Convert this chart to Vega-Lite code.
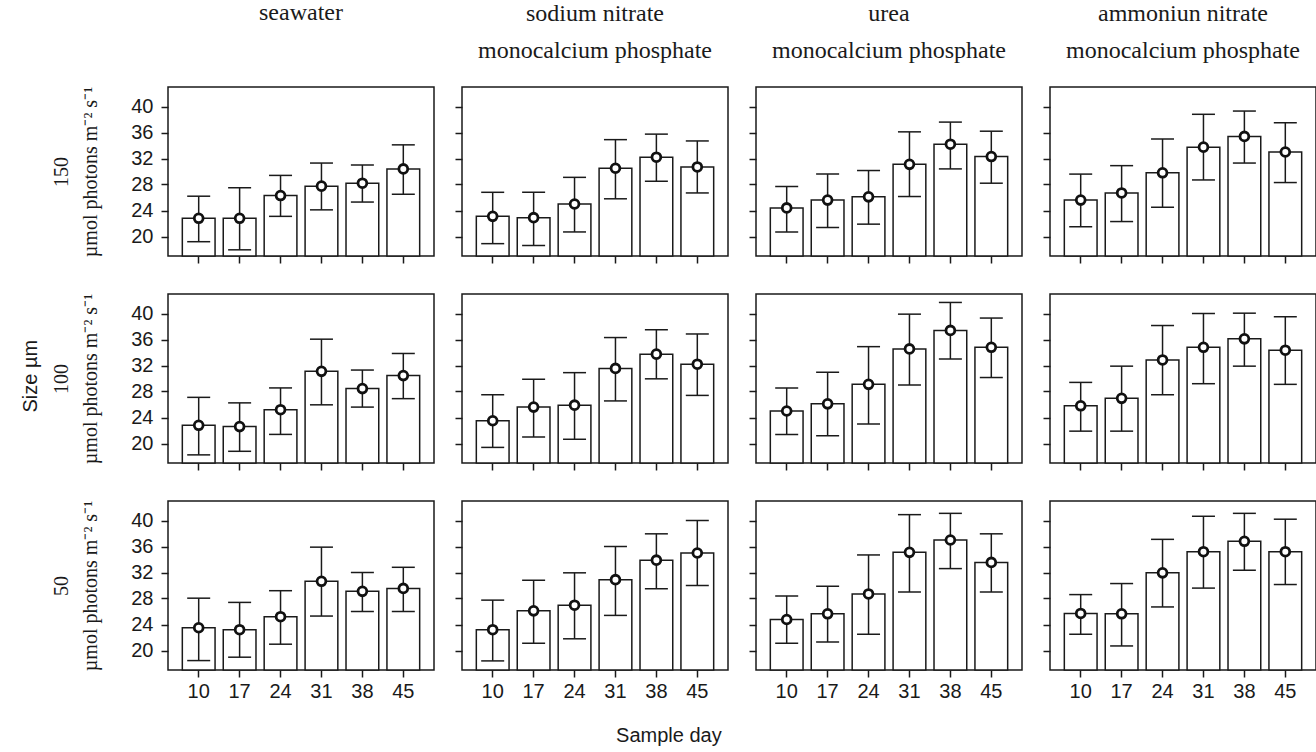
{
"$schema": "https://vega.github.io/schema/vega-lite/v6.json",
"background": "white",
"padding": {"left": 21, "top": 0, "right": 0, "bottom": 0},
"data": {"values": [
{"t":"sw","l":150,"day":10,"m":22.8,"lo":19.2,"hi":26.2},
{"t":"sw","l":150,"day":17,"m":22.8,"lo":17.95,"hi":27.5},
{"t":"sw","l":150,"day":24,"m":26.3,"lo":23.1,"hi":29.4},
{"t":"sw","l":150,"day":31,"m":27.75,"lo":24.1,"hi":31.3},
{"t":"sw","l":150,"day":38,"m":28.2,"lo":25.3,"hi":31.0},
{"t":"sw","l":150,"day":45,"m":30.4,"lo":26.5,"hi":34.1},
{"t":"sn","l":150,"day":10,"m":23.1,"lo":18.9,"hi":26.8},
{"t":"sn","l":150,"day":17,"m":22.9,"lo":18.6,"hi":26.8},
{"t":"sn","l":150,"day":24,"m":25.0,"lo":20.7,"hi":29.1},
{"t":"sn","l":150,"day":31,"m":30.5,"lo":25.8,"hi":34.9},
{"t":"sn","l":150,"day":38,"m":32.2,"lo":28.5,"hi":35.75},
{"t":"sn","l":150,"day":45,"m":30.7,"lo":26.7,"hi":34.7},
{"t":"ur","l":150,"day":10,"m":24.4,"lo":20.7,"hi":27.7},
{"t":"ur","l":150,"day":17,"m":25.6,"lo":21.4,"hi":29.6},
{"t":"ur","l":150,"day":24,"m":26.1,"lo":21.9,"hi":30.15},
{"t":"ur","l":150,"day":31,"m":31.1,"lo":26.15,"hi":36.1},
{"t":"ur","l":150,"day":38,"m":34.2,"lo":30.4,"hi":37.6},
{"t":"ur","l":150,"day":45,"m":32.3,"lo":28.2,"hi":36.2},
{"t":"an","l":150,"day":10,"m":25.6,"lo":21.5,"hi":29.6},
{"t":"an","l":150,"day":17,"m":26.7,"lo":22.3,"hi":30.9},
{"t":"an","l":150,"day":24,"m":29.8,"lo":24.5,"hi":35.0},
{"t":"an","l":150,"day":31,"m":33.75,"lo":28.7,"hi":38.8},
{"t":"an","l":150,"day":38,"m":35.4,"lo":31.3,"hi":39.3},
{"t":"an","l":150,"day":45,"m":33.0,"lo":28.3,"hi":37.5},
{"t":"sw","l":100,"day":10,"m":22.8,"lo":18.25,"hi":27.1},
{"t":"sw","l":100,"day":17,"m":22.6,"lo":18.8,"hi":26.25},
{"t":"sw","l":100,"day":24,"m":25.2,"lo":21.4,"hi":28.55},
{"t":"sw","l":100,"day":31,"m":31.1,"lo":25.95,"hi":36.05},
{"t":"sw","l":100,"day":38,"m":28.45,"lo":25.6,"hi":31.3},
{"t":"sw","l":100,"day":45,"m":30.45,"lo":26.9,"hi":33.85},
{"t":"sn","l":100,"day":10,"m":23.5,"lo":19.4,"hi":27.5},
{"t":"sn","l":100,"day":17,"m":25.6,"lo":21.0,"hi":29.9},
{"t":"sn","l":100,"day":24,"m":25.9,"lo":20.65,"hi":30.9},
{"t":"sn","l":100,"day":31,"m":31.55,"lo":26.55,"hi":36.3},
{"t":"sn","l":100,"day":38,"m":33.75,"lo":29.95,"hi":37.5},
{"t":"sn","l":100,"day":45,"m":32.2,"lo":27.4,"hi":36.85},
{"t":"ur","l":100,"day":10,"m":25.0,"lo":21.4,"hi":28.55},
{"t":"ur","l":100,"day":17,"m":26.1,"lo":21.2,"hi":30.95},
{"t":"ur","l":100,"day":24,"m":29.1,"lo":23.0,"hi":34.9},
{"t":"ur","l":100,"day":31,"m":34.55,"lo":29.0,"hi":39.9},
{"t":"ur","l":100,"day":38,"m":37.4,"lo":33.0,"hi":41.7},
{"t":"ur","l":100,"day":45,"m":34.8,"lo":30.15,"hi":39.3},
{"t":"an","l":100,"day":10,"m":25.8,"lo":21.9,"hi":29.4},
{"t":"an","l":100,"day":17,"m":26.95,"lo":21.9,"hi":31.9},
{"t":"an","l":100,"day":24,"m":32.85,"lo":27.5,"hi":38.15},
{"t":"an","l":100,"day":31,"m":34.8,"lo":29.2,"hi":40.0},
{"t":"an","l":100,"day":38,"m":36.1,"lo":31.9,"hi":40.05},
{"t":"an","l":100,"day":45,"m":34.35,"lo":29.1,"hi":39.5},
{"t":"sw","l":50,"day":10,"m":23.5,"lo":18.45,"hi":28.05},
{"t":"sw","l":50,"day":17,"m":23.2,"lo":18.97,"hi":27.4},
{"t":"sw","l":50,"day":24,"m":25.2,"lo":20.97,"hi":29.2},
{"t":"sw","l":50,"day":31,"m":30.65,"lo":25.3,"hi":35.9},
{"t":"sw","l":50,"day":38,"m":29.1,"lo":26.0,"hi":32.0},
{"t":"sw","l":50,"day":45,"m":29.55,"lo":26.0,"hi":32.8},
{"t":"sn","l":50,"day":10,"m":23.2,"lo":18.4,"hi":27.75},
{"t":"sn","l":50,"day":17,"m":26.1,"lo":21.1,"hi":30.8},
{"t":"sn","l":50,"day":24,"m":26.97,"lo":21.8,"hi":31.95},
{"t":"sn","l":50,"day":31,"m":30.9,"lo":25.4,"hi":36.0},
{"t":"sn","l":50,"day":38,"m":33.9,"lo":29.5,"hi":37.95},
{"t":"sn","l":50,"day":45,"m":35.0,"lo":30.0,"hi":40.0},
{"t":"ur","l":50,"day":10,"m":24.77,"lo":21.1,"hi":28.4},
{"t":"ur","l":50,"day":17,"m":25.65,"lo":21.3,"hi":29.9},
{"t":"ur","l":50,"day":24,"m":28.7,"lo":22.5,"hi":34.7},
{"t":"ur","l":50,"day":31,"m":35.1,"lo":29.0,"hi":40.9},
{"t":"ur","l":50,"day":38,"m":37.0,"lo":32.6,"hi":41.1},
{"t":"ur","l":50,"day":45,"m":33.55,"lo":29.0,"hi":37.95},
{"t":"an","l":50,"day":10,"m":25.7,"lo":22.5,"hi":28.6},
{"t":"an","l":50,"day":17,"m":25.65,"lo":20.7,"hi":30.3},
{"t":"an","l":50,"day":24,"m":31.95,"lo":26.7,"hi":37.1},
{"t":"an","l":50,"day":31,"m":35.2,"lo":29.6,"hi":40.65},
{"t":"an","l":50,"day":38,"m":36.8,"lo":32.35,"hi":41.1},
{"t":"an","l":50,"day":45,"m":35.2,"lo":30.15,"hi":40.2}
]},
"title": {"text": "Sample day", "orient": "bottom", "anchor": "middle", "frame": "bounds", "font": "Liberation Sans", "fontSize": 20, "fontWeight": "normal", "color": "#1a1a1a", "offset": 24},
"vconcat": [
{
"title": {"text": "Size µm", "orient": "left", "anchor": "middle", "frame": "bounds", "font": "Liberation Sans", "fontSize": 20, "fontWeight": "normal", "color": "#1a1a1a", "offset": 10, "dx": -25},
"spacing": 27,
"vconcat": [
{"spacing": 28, "bounds": "flush", "hconcat": [
{"width": 266, "height": 169, "title": {"text": ["seawater", ""]},
 "transform": [{"filter": "datum.t=='sw' && datum.l==150"}],
 "encoding": {"x": {"field": "day", "type": "ordinal", "scale": {"paddingInner": 0.2, "paddingOuter": 0.35}, "axis": {"labels": false, "title": null}}},
 "layer": [
  {"mark": {"type": "bar", "fill": "white", "stroke": "#1a1a1a", "strokeWidth": 1.5}, "encoding": {"y": {"field": "m", "type": "quantitative", "scale": {"domain": [17, 43], "nice": false, "zero": false}, "axis": {"values": [20, 24, 28, 32, 36, 40], "labels": true, "title": ["150", "µmol photons m⁻² s⁻¹"]}}, "y2": {"datum": 17}}},
  {"mark": {"type": "rule", "color": "#1a1a1a", "strokeWidth": 1.5}, "encoding": {"y": {"field": "lo", "type": "quantitative", "axis": {"values": [20, 24, 28, 32, 36, 40], "labels": true, "title": ["150", "µmol photons m⁻² s⁻¹"]}}, "y2": {"field": "hi"}}},
  {"mark": {"type": "tick", "color": "#1a1a1a", "size": 23, "thickness": 1.5, "opacity": 1}, "encoding": {"y": {"field": "lo", "type": "quantitative", "axis": {"values": [20, 24, 28, 32, 36, 40], "labels": true, "title": ["150", "µmol photons m⁻² s⁻¹"]}}}},
  {"mark": {"type": "tick", "color": "#1a1a1a", "size": 23, "thickness": 1.5, "opacity": 1}, "encoding": {"y": {"field": "hi", "type": "quantitative", "axis": {"values": [20, 24, 28, 32, 36, 40], "labels": true, "title": ["150", "µmol photons m⁻² s⁻¹"]}}}},
  {"mark": {"type": "point", "filled": true, "fill": "white", "stroke": "#111111", "strokeWidth": 2.8, "size": 78, "opacity": 1}, "encoding": {"y": {"field": "m", "type": "quantitative", "axis": {"values": [20, 24, 28, 32, 36, 40], "labels": true, "title": ["150", "µmol photons m⁻² s⁻¹"]}}}}
 ]},
{"width": 266, "height": 169, "title": {"text": ["sodium nitrate", "monocalcium phosphate"]},
 "transform": [{"filter": "datum.t=='sn' && datum.l==150"}],
 "encoding": {"x": {"field": "day", "type": "ordinal", "scale": {"paddingInner": 0.2, "paddingOuter": 0.35}, "axis": {"labels": false, "title": null}}},
 "layer": [
  {"mark": {"type": "bar", "fill": "white", "stroke": "#1a1a1a", "strokeWidth": 1.5}, "encoding": {"y": {"field": "m", "type": "quantitative", "scale": {"domain": [17, 43], "nice": false, "zero": false}, "axis": {"values": [20, 24, 28, 32, 36, 40], "labels": false, "title": null}}, "y2": {"datum": 17}}},
  {"mark": {"type": "rule", "color": "#1a1a1a", "strokeWidth": 1.5}, "encoding": {"y": {"field": "lo", "type": "quantitative", "axis": {"values": [20, 24, 28, 32, 36, 40], "labels": false, "title": null}}, "y2": {"field": "hi"}}},
  {"mark": {"type": "tick", "color": "#1a1a1a", "size": 23, "thickness": 1.5, "opacity": 1}, "encoding": {"y": {"field": "lo", "type": "quantitative", "axis": {"values": [20, 24, 28, 32, 36, 40], "labels": false, "title": null}}}},
  {"mark": {"type": "tick", "color": "#1a1a1a", "size": 23, "thickness": 1.5, "opacity": 1}, "encoding": {"y": {"field": "hi", "type": "quantitative", "axis": {"values": [20, 24, 28, 32, 36, 40], "labels": false, "title": null}}}},
  {"mark": {"type": "point", "filled": true, "fill": "white", "stroke": "#111111", "strokeWidth": 2.8, "size": 78, "opacity": 1}, "encoding": {"y": {"field": "m", "type": "quantitative", "axis": {"values": [20, 24, 28, 32, 36, 40], "labels": false, "title": null}}}}
 ]},
{"width": 266, "height": 169, "title": {"text": ["urea", "monocalcium phosphate"]},
 "transform": [{"filter": "datum.t=='ur' && datum.l==150"}],
 "encoding": {"x": {"field": "day", "type": "ordinal", "scale": {"paddingInner": 0.2, "paddingOuter": 0.35}, "axis": {"labels": false, "title": null}}},
 "layer": [
  {"mark": {"type": "bar", "fill": "white", "stroke": "#1a1a1a", "strokeWidth": 1.5}, "encoding": {"y": {"field": "m", "type": "quantitative", "scale": {"domain": [17, 43], "nice": false, "zero": false}, "axis": {"values": [20, 24, 28, 32, 36, 40], "labels": false, "title": null}}, "y2": {"datum": 17}}},
  {"mark": {"type": "rule", "color": "#1a1a1a", "strokeWidth": 1.5}, "encoding": {"y": {"field": "lo", "type": "quantitative", "axis": {"values": [20, 24, 28, 32, 36, 40], "labels": false, "title": null}}, "y2": {"field": "hi"}}},
  {"mark": {"type": "tick", "color": "#1a1a1a", "size": 23, "thickness": 1.5, "opacity": 1}, "encoding": {"y": {"field": "lo", "type": "quantitative", "axis": {"values": [20, 24, 28, 32, 36, 40], "labels": false, "title": null}}}},
  {"mark": {"type": "tick", "color": "#1a1a1a", "size": 23, "thickness": 1.5, "opacity": 1}, "encoding": {"y": {"field": "hi", "type": "quantitative", "axis": {"values": [20, 24, 28, 32, 36, 40], "labels": false, "title": null}}}},
  {"mark": {"type": "point", "filled": true, "fill": "white", "stroke": "#111111", "strokeWidth": 2.8, "size": 78, "opacity": 1}, "encoding": {"y": {"field": "m", "type": "quantitative", "axis": {"values": [20, 24, 28, 32, 36, 40], "labels": false, "title": null}}}}
 ]},
{"width": 266, "height": 169, "title": {"text": ["ammoniun nitrate", "monocalcium phosphate"]},
 "transform": [{"filter": "datum.t=='an' && datum.l==150"}],
 "encoding": {"x": {"field": "day", "type": "ordinal", "scale": {"paddingInner": 0.2, "paddingOuter": 0.35}, "axis": {"labels": false, "title": null}}},
 "layer": [
  {"mark": {"type": "bar", "fill": "white", "stroke": "#1a1a1a", "strokeWidth": 1.5}, "encoding": {"y": {"field": "m", "type": "quantitative", "scale": {"domain": [17, 43], "nice": false, "zero": false}, "axis": {"values": [20, 24, 28, 32, 36, 40], "labels": false, "title": null}}, "y2": {"datum": 17}}},
  {"mark": {"type": "rule", "color": "#1a1a1a", "strokeWidth": 1.5}, "encoding": {"y": {"field": "lo", "type": "quantitative", "axis": {"values": [20, 24, 28, 32, 36, 40], "labels": false, "title": null}}, "y2": {"field": "hi"}}},
  {"mark": {"type": "tick", "color": "#1a1a1a", "size": 23, "thickness": 1.5, "opacity": 1}, "encoding": {"y": {"field": "lo", "type": "quantitative", "axis": {"values": [20, 24, 28, 32, 36, 40], "labels": false, "title": null}}}},
  {"mark": {"type": "tick", "color": "#1a1a1a", "size": 23, "thickness": 1.5, "opacity": 1}, "encoding": {"y": {"field": "hi", "type": "quantitative", "axis": {"values": [20, 24, 28, 32, 36, 40], "labels": false, "title": null}}}},
  {"mark": {"type": "point", "filled": true, "fill": "white", "stroke": "#111111", "strokeWidth": 2.8, "size": 78, "opacity": 1}, "encoding": {"y": {"field": "m", "type": "quantitative", "axis": {"values": [20, 24, 28, 32, 36, 40], "labels": false, "title": null}}}}
 ]}
]},
{"spacing": 28, "bounds": "flush", "hconcat": [
{"width": 266, "height": 169,
 "transform": [{"filter": "datum.t=='sw' && datum.l==100"}],
 "encoding": {"x": {"field": "day", "type": "ordinal", "scale": {"paddingInner": 0.2, "paddingOuter": 0.35}, "axis": {"labels": false, "title": null}}},
 "layer": [
  {"mark": {"type": "bar", "fill": "white", "stroke": "#1a1a1a", "strokeWidth": 1.5}, "encoding": {"y": {"field": "m", "type": "quantitative", "scale": {"domain": [17, 43], "nice": false, "zero": false}, "axis": {"values": [20, 24, 28, 32, 36, 40], "labels": true, "title": ["100", "µmol photons m⁻² s⁻¹"]}}, "y2": {"datum": 17}}},
  {"mark": {"type": "rule", "color": "#1a1a1a", "strokeWidth": 1.5}, "encoding": {"y": {"field": "lo", "type": "quantitative", "axis": {"values": [20, 24, 28, 32, 36, 40], "labels": true, "title": ["100", "µmol photons m⁻² s⁻¹"]}}, "y2": {"field": "hi"}}},
  {"mark": {"type": "tick", "color": "#1a1a1a", "size": 23, "thickness": 1.5, "opacity": 1}, "encoding": {"y": {"field": "lo", "type": "quantitative", "axis": {"values": [20, 24, 28, 32, 36, 40], "labels": true, "title": ["100", "µmol photons m⁻² s⁻¹"]}}}},
  {"mark": {"type": "tick", "color": "#1a1a1a", "size": 23, "thickness": 1.5, "opacity": 1}, "encoding": {"y": {"field": "hi", "type": "quantitative", "axis": {"values": [20, 24, 28, 32, 36, 40], "labels": true, "title": ["100", "µmol photons m⁻² s⁻¹"]}}}},
  {"mark": {"type": "point", "filled": true, "fill": "white", "stroke": "#111111", "strokeWidth": 2.8, "size": 78, "opacity": 1}, "encoding": {"y": {"field": "m", "type": "quantitative", "axis": {"values": [20, 24, 28, 32, 36, 40], "labels": true, "title": ["100", "µmol photons m⁻² s⁻¹"]}}}}
 ]},
{"width": 266, "height": 169,
 "transform": [{"filter": "datum.t=='sn' && datum.l==100"}],
 "encoding": {"x": {"field": "day", "type": "ordinal", "scale": {"paddingInner": 0.2, "paddingOuter": 0.35}, "axis": {"labels": false, "title": null}}},
 "layer": [
  {"mark": {"type": "bar", "fill": "white", "stroke": "#1a1a1a", "strokeWidth": 1.5}, "encoding": {"y": {"field": "m", "type": "quantitative", "scale": {"domain": [17, 43], "nice": false, "zero": false}, "axis": {"values": [20, 24, 28, 32, 36, 40], "labels": false, "title": null}}, "y2": {"datum": 17}}},
  {"mark": {"type": "rule", "color": "#1a1a1a", "strokeWidth": 1.5}, "encoding": {"y": {"field": "lo", "type": "quantitative", "axis": {"values": [20, 24, 28, 32, 36, 40], "labels": false, "title": null}}, "y2": {"field": "hi"}}},
  {"mark": {"type": "tick", "color": "#1a1a1a", "size": 23, "thickness": 1.5, "opacity": 1}, "encoding": {"y": {"field": "lo", "type": "quantitative", "axis": {"values": [20, 24, 28, 32, 36, 40], "labels": false, "title": null}}}},
  {"mark": {"type": "tick", "color": "#1a1a1a", "size": 23, "thickness": 1.5, "opacity": 1}, "encoding": {"y": {"field": "hi", "type": "quantitative", "axis": {"values": [20, 24, 28, 32, 36, 40], "labels": false, "title": null}}}},
  {"mark": {"type": "point", "filled": true, "fill": "white", "stroke": "#111111", "strokeWidth": 2.8, "size": 78, "opacity": 1}, "encoding": {"y": {"field": "m", "type": "quantitative", "axis": {"values": [20, 24, 28, 32, 36, 40], "labels": false, "title": null}}}}
 ]},
{"width": 266, "height": 169,
 "transform": [{"filter": "datum.t=='ur' && datum.l==100"}],
 "encoding": {"x": {"field": "day", "type": "ordinal", "scale": {"paddingInner": 0.2, "paddingOuter": 0.35}, "axis": {"labels": false, "title": null}}},
 "layer": [
  {"mark": {"type": "bar", "fill": "white", "stroke": "#1a1a1a", "strokeWidth": 1.5}, "encoding": {"y": {"field": "m", "type": "quantitative", "scale": {"domain": [17, 43], "nice": false, "zero": false}, "axis": {"values": [20, 24, 28, 32, 36, 40], "labels": false, "title": null}}, "y2": {"datum": 17}}},
  {"mark": {"type": "rule", "color": "#1a1a1a", "strokeWidth": 1.5}, "encoding": {"y": {"field": "lo", "type": "quantitative", "axis": {"values": [20, 24, 28, 32, 36, 40], "labels": false, "title": null}}, "y2": {"field": "hi"}}},
  {"mark": {"type": "tick", "color": "#1a1a1a", "size": 23, "thickness": 1.5, "opacity": 1}, "encoding": {"y": {"field": "lo", "type": "quantitative", "axis": {"values": [20, 24, 28, 32, 36, 40], "labels": false, "title": null}}}},
  {"mark": {"type": "tick", "color": "#1a1a1a", "size": 23, "thickness": 1.5, "opacity": 1}, "encoding": {"y": {"field": "hi", "type": "quantitative", "axis": {"values": [20, 24, 28, 32, 36, 40], "labels": false, "title": null}}}},
  {"mark": {"type": "point", "filled": true, "fill": "white", "stroke": "#111111", "strokeWidth": 2.8, "size": 78, "opacity": 1}, "encoding": {"y": {"field": "m", "type": "quantitative", "axis": {"values": [20, 24, 28, 32, 36, 40], "labels": false, "title": null}}}}
 ]},
{"width": 266, "height": 169,
 "transform": [{"filter": "datum.t=='an' && datum.l==100"}],
 "encoding": {"x": {"field": "day", "type": "ordinal", "scale": {"paddingInner": 0.2, "paddingOuter": 0.35}, "axis": {"labels": false, "title": null}}},
 "layer": [
  {"mark": {"type": "bar", "fill": "white", "stroke": "#1a1a1a", "strokeWidth": 1.5}, "encoding": {"y": {"field": "m", "type": "quantitative", "scale": {"domain": [17, 43], "nice": false, "zero": false}, "axis": {"values": [20, 24, 28, 32, 36, 40], "labels": false, "title": null}}, "y2": {"datum": 17}}},
  {"mark": {"type": "rule", "color": "#1a1a1a", "strokeWidth": 1.5}, "encoding": {"y": {"field": "lo", "type": "quantitative", "axis": {"values": [20, 24, 28, 32, 36, 40], "labels": false, "title": null}}, "y2": {"field": "hi"}}},
  {"mark": {"type": "tick", "color": "#1a1a1a", "size": 23, "thickness": 1.5, "opacity": 1}, "encoding": {"y": {"field": "lo", "type": "quantitative", "axis": {"values": [20, 24, 28, 32, 36, 40], "labels": false, "title": null}}}},
  {"mark": {"type": "tick", "color": "#1a1a1a", "size": 23, "thickness": 1.5, "opacity": 1}, "encoding": {"y": {"field": "hi", "type": "quantitative", "axis": {"values": [20, 24, 28, 32, 36, 40], "labels": false, "title": null}}}},
  {"mark": {"type": "point", "filled": true, "fill": "white", "stroke": "#111111", "strokeWidth": 2.8, "size": 78, "opacity": 1}, "encoding": {"y": {"field": "m", "type": "quantitative", "axis": {"values": [20, 24, 28, 32, 36, 40], "labels": false, "title": null}}}}
 ]}
]},
{"spacing": 28, "bounds": "flush", "hconcat": [
{"width": 266, "height": 169,
 "transform": [{"filter": "datum.t=='sw' && datum.l==50"}],
 "encoding": {"x": {"field": "day", "type": "ordinal", "scale": {"paddingInner": 0.2, "paddingOuter": 0.35}, "axis": {"labels": true, "title": null}}},
 "layer": [
  {"mark": {"type": "bar", "fill": "white", "stroke": "#1a1a1a", "strokeWidth": 1.5}, "encoding": {"y": {"field": "m", "type": "quantitative", "scale": {"domain": [17, 43], "nice": false, "zero": false}, "axis": {"values": [20, 24, 28, 32, 36, 40], "labels": true, "title": ["50", "µmol photons m⁻² s⁻¹"]}}, "y2": {"datum": 17}}},
  {"mark": {"type": "rule", "color": "#1a1a1a", "strokeWidth": 1.5}, "encoding": {"y": {"field": "lo", "type": "quantitative", "axis": {"values": [20, 24, 28, 32, 36, 40], "labels": true, "title": ["50", "µmol photons m⁻² s⁻¹"]}}, "y2": {"field": "hi"}}},
  {"mark": {"type": "tick", "color": "#1a1a1a", "size": 23, "thickness": 1.5, "opacity": 1}, "encoding": {"y": {"field": "lo", "type": "quantitative", "axis": {"values": [20, 24, 28, 32, 36, 40], "labels": true, "title": ["50", "µmol photons m⁻² s⁻¹"]}}}},
  {"mark": {"type": "tick", "color": "#1a1a1a", "size": 23, "thickness": 1.5, "opacity": 1}, "encoding": {"y": {"field": "hi", "type": "quantitative", "axis": {"values": [20, 24, 28, 32, 36, 40], "labels": true, "title": ["50", "µmol photons m⁻² s⁻¹"]}}}},
  {"mark": {"type": "point", "filled": true, "fill": "white", "stroke": "#111111", "strokeWidth": 2.8, "size": 78, "opacity": 1}, "encoding": {"y": {"field": "m", "type": "quantitative", "axis": {"values": [20, 24, 28, 32, 36, 40], "labels": true, "title": ["50", "µmol photons m⁻² s⁻¹"]}}}}
 ]},
{"width": 266, "height": 169,
 "transform": [{"filter": "datum.t=='sn' && datum.l==50"}],
 "encoding": {"x": {"field": "day", "type": "ordinal", "scale": {"paddingInner": 0.2, "paddingOuter": 0.35}, "axis": {"labels": true, "title": null}}},
 "layer": [
  {"mark": {"type": "bar", "fill": "white", "stroke": "#1a1a1a", "strokeWidth": 1.5}, "encoding": {"y": {"field": "m", "type": "quantitative", "scale": {"domain": [17, 43], "nice": false, "zero": false}, "axis": {"values": [20, 24, 28, 32, 36, 40], "labels": false, "title": null}}, "y2": {"datum": 17}}},
  {"mark": {"type": "rule", "color": "#1a1a1a", "strokeWidth": 1.5}, "encoding": {"y": {"field": "lo", "type": "quantitative", "axis": {"values": [20, 24, 28, 32, 36, 40], "labels": false, "title": null}}, "y2": {"field": "hi"}}},
  {"mark": {"type": "tick", "color": "#1a1a1a", "size": 23, "thickness": 1.5, "opacity": 1}, "encoding": {"y": {"field": "lo", "type": "quantitative", "axis": {"values": [20, 24, 28, 32, 36, 40], "labels": false, "title": null}}}},
  {"mark": {"type": "tick", "color": "#1a1a1a", "size": 23, "thickness": 1.5, "opacity": 1}, "encoding": {"y": {"field": "hi", "type": "quantitative", "axis": {"values": [20, 24, 28, 32, 36, 40], "labels": false, "title": null}}}},
  {"mark": {"type": "point", "filled": true, "fill": "white", "stroke": "#111111", "strokeWidth": 2.8, "size": 78, "opacity": 1}, "encoding": {"y": {"field": "m", "type": "quantitative", "axis": {"values": [20, 24, 28, 32, 36, 40], "labels": false, "title": null}}}}
 ]},
{"width": 266, "height": 169,
 "transform": [{"filter": "datum.t=='ur' && datum.l==50"}],
 "encoding": {"x": {"field": "day", "type": "ordinal", "scale": {"paddingInner": 0.2, "paddingOuter": 0.35}, "axis": {"labels": true, "title": null}}},
 "layer": [
  {"mark": {"type": "bar", "fill": "white", "stroke": "#1a1a1a", "strokeWidth": 1.5}, "encoding": {"y": {"field": "m", "type": "quantitative", "scale": {"domain": [17, 43], "nice": false, "zero": false}, "axis": {"values": [20, 24, 28, 32, 36, 40], "labels": false, "title": null}}, "y2": {"datum": 17}}},
  {"mark": {"type": "rule", "color": "#1a1a1a", "strokeWidth": 1.5}, "encoding": {"y": {"field": "lo", "type": "quantitative", "axis": {"values": [20, 24, 28, 32, 36, 40], "labels": false, "title": null}}, "y2": {"field": "hi"}}},
  {"mark": {"type": "tick", "color": "#1a1a1a", "size": 23, "thickness": 1.5, "opacity": 1}, "encoding": {"y": {"field": "lo", "type": "quantitative", "axis": {"values": [20, 24, 28, 32, 36, 40], "labels": false, "title": null}}}},
  {"mark": {"type": "tick", "color": "#1a1a1a", "size": 23, "thickness": 1.5, "opacity": 1}, "encoding": {"y": {"field": "hi", "type": "quantitative", "axis": {"values": [20, 24, 28, 32, 36, 40], "labels": false, "title": null}}}},
  {"mark": {"type": "point", "filled": true, "fill": "white", "stroke": "#111111", "strokeWidth": 2.8, "size": 78, "opacity": 1}, "encoding": {"y": {"field": "m", "type": "quantitative", "axis": {"values": [20, 24, 28, 32, 36, 40], "labels": false, "title": null}}}}
 ]},
{"width": 266, "height": 169,
 "transform": [{"filter": "datum.t=='an' && datum.l==50"}],
 "encoding": {"x": {"field": "day", "type": "ordinal", "scale": {"paddingInner": 0.2, "paddingOuter": 0.35}, "axis": {"labels": true, "title": null}}},
 "layer": [
  {"mark": {"type": "bar", "fill": "white", "stroke": "#1a1a1a", "strokeWidth": 1.5}, "encoding": {"y": {"field": "m", "type": "quantitative", "scale": {"domain": [17, 43], "nice": false, "zero": false}, "axis": {"values": [20, 24, 28, 32, 36, 40], "labels": false, "title": null}}, "y2": {"datum": 17}}},
  {"mark": {"type": "rule", "color": "#1a1a1a", "strokeWidth": 1.5}, "encoding": {"y": {"field": "lo", "type": "quantitative", "axis": {"values": [20, 24, 28, 32, 36, 40], "labels": false, "title": null}}, "y2": {"field": "hi"}}},
  {"mark": {"type": "tick", "color": "#1a1a1a", "size": 23, "thickness": 1.5, "opacity": 1}, "encoding": {"y": {"field": "lo", "type": "quantitative", "axis": {"values": [20, 24, 28, 32, 36, 40], "labels": false, "title": null}}}},
  {"mark": {"type": "tick", "color": "#1a1a1a", "size": 23, "thickness": 1.5, "opacity": 1}, "encoding": {"y": {"field": "hi", "type": "quantitative", "axis": {"values": [20, 24, 28, 32, 36, 40], "labels": false, "title": null}}}},
  {"mark": {"type": "point", "filled": true, "fill": "white", "stroke": "#111111", "strokeWidth": 2.8, "size": 78, "opacity": 1}, "encoding": {"y": {"field": "m", "type": "quantitative", "axis": {"values": [20, 24, 28, 32, 36, 40], "labels": false, "title": null}}}}
 ]}
]}
]
}
],
"config": {
 "view": {"stroke": "#1a1a1a", "strokeWidth": 1.5},
 "axis": {"domain": false, "grid": false, "ticks": true, "tickSize": 7, "tickWidth": 1.5, "tickColor": "#1a1a1a", "labelFont": "Liberation Sans", "labelFontSize": 20, "labelColor": "#1a1a1a", "titleFont": "Liberation Serif", "titleFontSize": 20, "titleFontWeight": "normal", "titleColor": "#1a1a1a", "titleLineHeight": 29, "titlePadding": 30},
 "axisX": {"labelAngle": 0, "labelPadding": 4},
 "axisY": {"labelPadding": 8},
 "title": {"font": "Liberation Serif", "fontSize": 24, "fontWeight": "normal", "color": "#1a1a1a", "lineHeight": 37, "offset": 24, "frame": "group", "anchor": "middle"}
}
}
